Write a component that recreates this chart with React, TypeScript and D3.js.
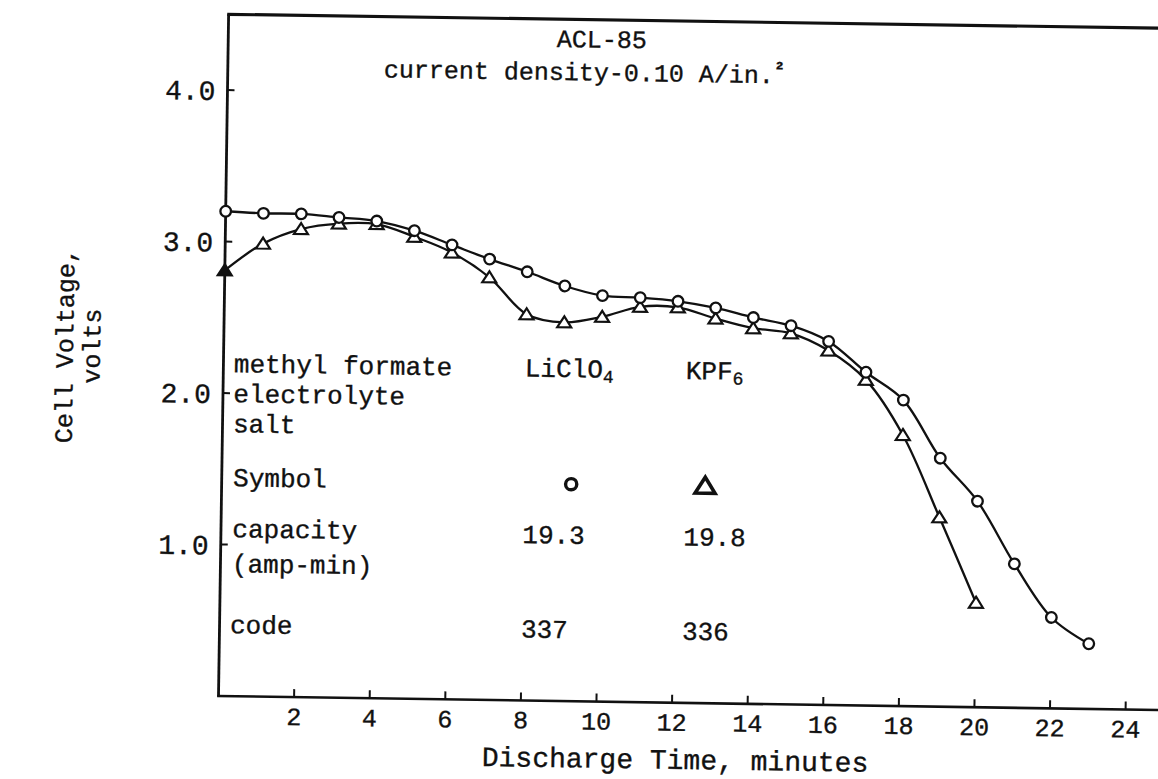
import React from "react";
import * as d3 from "d3";

// ---- data ----
const licTime = [0, 1, 2, 3, 4, 5, 6, 7, 8, 9, 10, 11, 12, 13, 14, 15, 16, 17, 18, 19, 20, 21, 22, 23];
const licVolts = [3.2, 3.19, 3.19, 3.17, 3.15, 3.09, 3.0, 2.91, 2.83, 2.74, 2.68, 2.67, 2.65, 2.61, 2.55, 2.5, 2.4, 2.2, 2.02, 1.64, 1.36, 0.95, 0.6, 0.43];
const kpfTime = [0, 1, 2, 3, 4, 5, 6, 7, 8, 9, 10, 11, 12, 13, 14, 15, 16, 17, 18, 19, 20];
const kpfVolts = [2.81, 2.99, 3.09, 3.13, 3.13, 3.05, 2.95, 2.79, 2.55, 2.5, 2.54, 2.61, 2.61, 2.54, 2.48, 2.45, 2.34, 2.15, 1.79, 1.25, 0.69];
const xTicks = [2, 4, 6, 8, 10, 12, 14, 16, 18, 20, 22, 24];
const yTicks = [1, 2, 3, 4];
const yTickLabels = ["1.0", "2.0", "3.0", "4.0"];
const titleLines = ["ACL-85", "current density-0.10 A/in."];
const xTitle = "Discharge Time, minutes";
const yTitle = ["Cell Voltage,", "volts"];
const legendHeader = ["methyl formate", "electrolyte", "salt"];
const legendSymbolLabel = "Symbol";
const legendCapacity = ["capacity", "(amp-min)"];
const legendCodeLabel = "code";
const saltNames = [["LiClO", "4"], ["KPF", "6"]];
const capacities = ["19.3", "19.8"];
const codes = ["337", "336"];

const FONT = "'Liberation Mono', 'Courier New', monospace";

export default function App() {
  const W = 1158;
  const H = 779;
  const x0 = 218.5;
  const y0 = 696;
  const x = d3.scaleLinear().domain([0, 25.5]).range([x0, x0 + 37.8 * 25.5]);
  const y = d3.scaleLinear().domain([0, 4.5]).range([y0, y0 - 151.5 * 4.5]);

  const line = d3
    .line<[number, number]>()
    .x((d) => x(d[0]))
    .y((d) => y(d[1]))
    .curve(d3.curveCatmullRom.alpha(0.5));

  const licPts: [number, number][] = licTime.map((t, i) => [t, licVolts[i]]);
  const kpfPts: [number, number][] = kpfTime.map((t, i) => [t, kpfVolts[i]]);

  const textStyle = { fontFamily: FONT, fill: "#111", stroke: "#111", strokeWidth: 0.35 } as const;
  const tri = "M0,-6 L7,5 L-7,5 Z";
  const bigTri = "M0,-8 L10,8 L-10,8 Z";

  const xr = x.range();
  const yTop = y(4.5);

  const legX = [229, 520, 681];
  const LF = 26;

  return (
    <svg
      width={W}
      height={H}
      viewBox={`0 0 ${W} ${H}`}
      style={{ position: "absolute", left: 0, top: 0, display: "block", background: "#fff" }}
    >
      <rect x={0} y={0} width={W} height={H} fill="#fff" />
      <g transform={`rotate(0.85 ${x0} ${y0})`}>
        {/* frame */}
        <line x1={x0} y1={y0} x2={x0} y2={yTop} stroke="#111" strokeWidth={2.8} />
        <line x1={x0 - 1.4} y1={y0} x2={xr[1]} y2={y0} stroke="#111" strokeWidth={2.6} />
        <line x1={x0 - 1.4} y1={yTop} x2={xr[1]} y2={yTop} stroke="#111" strokeWidth={3.2} />

        {/* x ticks */}
        {xTicks.map((t) => (
          <g key={`xt${t}`}>
            <line x1={x(t)} y1={y0} x2={x(t)} y2={y0 - 8} stroke="#111" strokeWidth={2} />
            <text x={x(t)} y={y0 + 28} textAnchor="middle" fontSize={25} style={textStyle}>
              {t}
            </text>
          </g>
        ))}

        {/* y ticks */}
        {yTicks.map((v, i) => (
          <g key={`yt${v}`}>
            <line x1={x0} y1={y(v)} x2={x0 + 7} y2={y(v)} stroke="#111" strokeWidth={2} />
            <text x={x0 - 12} y={y(v)} dy="0.36em" textAnchor="end" fontSize={28} style={textStyle}>
              {yTickLabels[i]}
            </text>
          </g>
        ))}

        {/* titles */}
        <text x={592} y={42} textAnchor="middle" fontSize={25} style={textStyle}>
          {titleLines[0]}
        </text>
        <text x={575} y={75} textAnchor="middle" fontSize={25} style={textStyle}>
          {titleLines[1]}
          <tspan fontSize={18} dy={-9} fontWeight="bold">²</tspan>
        </text>
        <text x={676} y={762} textAnchor="middle" fontSize={28} style={textStyle}>
          {xTitle}
        </text>
        <text transform="rotate(-90)" textAnchor="middle" fontSize={25} style={textStyle}>
          <tspan x={-348} y={68}>{yTitle[0]}</tspan>
          <tspan x={-348} y={95}>{yTitle[1]}</tspan>
        </text>

        {/* curves */}
        <path d={line(licPts) ?? ""} fill="none" stroke="#111" strokeWidth={2.3} />
        <path d={line(kpfPts) ?? ""} fill="none" stroke="#111" strokeWidth={2.3} />

        {/* markers */}
        {kpfPts.map((d, i) => (
          <path
            key={`k${i}`}
            d={tri}
            transform={`translate(${x(d[0])},${y(d[1])})`}
            fill={i === 0 ? "#111" : "#fff"}
            stroke="#111"
            strokeWidth={2.2}
          />
        ))}
        {licPts.map((d, i) => (
          <circle key={`l${i}`} cx={x(d[0])} cy={y(d[1])} r={5.3} fill="#fff" stroke="#111" strokeWidth={2.3} />
        ))}

        {/* legend table */}
        {legendHeader.map((lab, i) => (
          <text key={`lh${i}`} x={legX[0]} y={372 + i * 30} fontSize={LF} style={textStyle}>
            {lab}
          </text>
        ))}
        <text x={legX[0] + 1} y={486} fontSize={LF} style={textStyle}>
          {legendSymbolLabel}
        </text>
        {legendCapacity.map((lab, i) => (
          <text key={`lc${i}`} x={legX[0] + 1} y={537 + i * 35} fontSize={LF} style={textStyle}>
            {lab}
          </text>
        ))}
        <text x={legX[0]} y={633} fontSize={LF} style={textStyle}>
          {legendCodeLabel}
        </text>
        {saltNames.map((s, i) => (
          <text key={`sn${i}`} x={legX[i + 1]} y={372} fontSize={LF} style={textStyle}>
            {s[0]}
            <tspan fontSize={18} dy={5}>{s[1]}</tspan>
          </text>
        ))}
        <circle cx={legX[1] + 48} cy={479} r={5.6} fill="none" stroke="#111" strokeWidth={3.4} />
        <path d={bigTri} transform={`translate(${legX[2] + 21},478)`} fill="none" stroke="#111" strokeWidth={3.6} />
        {capacities.map((c, i) => (
          <text key={`c${i}`} x={legX[i + 1]} y={538.5} fontSize={LF} style={textStyle}>
            {c}
          </text>
        ))}
        {codes.map((c, i) => (
          <text key={`cd${i}`} x={legX[i + 1]} y={633} fontSize={LF} style={textStyle}>
            {c}
          </text>
        ))}
      </g>
    </svg>
  );
}
